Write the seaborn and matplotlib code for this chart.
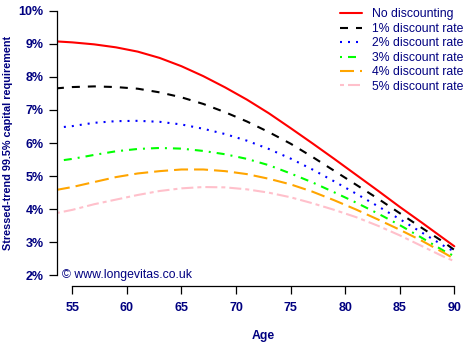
import numpy as np
import pandas as pd
import matplotlib
matplotlib.use("Agg")
import matplotlib.pyplot as plt
import seaborn as sns

ages = [53.5, 55, 57, 59, 61, 63, 65, 67, 69, 71, 73, 75, 77, 79, 81, 83, 85, 87, 89, 90]
no_disc = [9.07, 9.04, 8.98, 8.89, 8.76, 8.57, 8.32, 8.02, 7.68, 7.31, 6.90, 6.45, 5.99, 5.52, 5.04, 4.56, 4.07, 3.60, 3.12, 2.88]
disc1 = [7.65, 7.69, 7.71, 7.69, 7.64, 7.53, 7.38, 7.18, 6.93, 6.65, 6.33, 5.98, 5.58, 5.16, 4.74, 4.32, 3.88, 3.44, 3.01, 2.77]
disc2 = [6.46, 6.51, 6.61, 6.66, 6.67, 6.64, 6.56, 6.43, 6.27, 6.07, 5.82, 5.53, 5.20, 4.84, 4.47, 4.09, 3.70, 3.30, 2.90, 2.72]
disc3 = [5.45, 5.52, 5.64, 5.75, 5.82, 5.85, 5.83, 5.76, 5.66, 5.52, 5.33, 5.08, 4.81, 4.51, 4.20, 3.87, 3.52, 3.14, 2.75, 2.58]
disc4 = [4.58, 4.67, 4.82, 4.97, 5.08, 5.15, 5.20, 5.20, 5.15, 5.06, 4.92, 4.75, 4.53, 4.27, 3.99, 3.69, 3.38, 3.05, 2.69, 2.50]
disc5 = [3.88, 3.98, 4.15, 4.29, 4.43, 4.55, 4.63, 4.67, 4.66, 4.60, 4.50, 4.36, 4.18, 3.98, 3.76, 3.50, 3.21, 2.89, 2.57, 2.43]

series_names = ["No discounting", "1% discount rate", "2% discount rate",
                "3% discount rate", "4% discount rate", "5% discount rate"]
series_values = [no_disc, disc1, disc2, disc3, disc4, disc5]
x_ticks = [55, 60, 65, 70, 75, 80, 85, 90]
y_ticks = [2, 3, 4, 5, 6, 7, 8, 9, 10]
y_tick_labels = [f"{v}%" for v in y_ticks]

colors = ["#FF0000", "#000000", "#0000FF", "#00FF00", "#FFA500", "#FFC0CB"]
dash_specs = ["", (5.76, 5.76), (1.44, 4.32), (1.44, 4.32, 5.76, 4.32), (10.08, 4.32), (2.88, 2.88, 8.64, 2.88)]

df = pd.DataFrame({
    "Age": np.tile(ages, len(series_names)),
    "value": np.concatenate(series_values),
    "series": np.repeat(series_names, len(ages)),
})

sns.set_style("ticks")
plt.rcParams["font.family"] = ["Liberation Sans", "DejaVu Sans"]
plt.rcParams["lines.scale_dashes"] = False

navy = "#000080"
fig = plt.figure(figsize=(4.7, 3.5), dpi=100)
ax = fig.add_axes([57 / 470, 64 / 350, 412.6 / 470, 286 / 350])

sns.lineplot(data=df, x="Age", y="value", hue="series", style="series",
             hue_order=series_names, style_order=series_names,
             palette=dict(zip(series_names, colors)),
             dashes=dict(zip(series_names, dash_specs)),
             linewidth=1.5, legend=False, ax=ax, sort=False)

ax.set_xlim(53.6, 91.4)
ax.set_ylim(1.68, 10.32)
ax.set_xticks(x_ticks)
ax.set_xticklabels([str(v) for v in x_ticks])
ax.set_yticks(y_ticks)
ax.set_yticklabels(y_tick_labels)
for lab in ax.get_xticklabels() + ax.get_yticklabels():
    lab.set_color(navy)
    lab.set_fontweight("bold")
    lab.set_fontsize(9)
ax.tick_params(axis="both", direction="out", length=5.5, width=0.9, color="black")
ax.tick_params(axis="x", pad=6)
ax.tick_params(axis="y", pad=4)
for s in ["top", "right"]:
    ax.spines[s].set_visible(False)
ax.spines["left"].set_bounds(2, 10)
ax.spines["bottom"].set_bounds(55, 90)
for s in ["left", "bottom"]:
    ax.spines[s].set_color("black")
    ax.spines[s].set_linewidth(0.9)
ax.set_xlabel("")
ax.set_ylabel("")
ax.set_facecolor("white")

fig.text(8.3 / 470, 1 - 142.5 / 350, "Stressed-trend 99.5% capital requirement",
         rotation=90, ha="center", va="center", color=navy, fontweight="bold", fontsize=7.8)
fig.text(263 / 470, 1 - 336 / 350, "Age", ha="center", va="center",
         color=navy, fontweight="bold", fontsize=8.8)

ax.text(54.08, 2.0, "\u00a9 www.longevitas.co.uk", ha="left", va="center",
        color=navy, fontsize=8.8)

leg = ax.legend(handles=ax.get_lines()[:6], labels=series_names, frameon=False,
                loc="upper left", bbox_to_anchor=(340 / 470, 1 - 8.5 / 350),
                bbox_transform=fig.transFigure,
                fontsize=8.8, handlelength=1.8, handletextpad=0.82, labelspacing=0.2,
                borderaxespad=0.0, borderpad=0.0)
for t in leg.get_texts():
    t.set_color(navy)

fig.savefig("out.png", dpi=100)
